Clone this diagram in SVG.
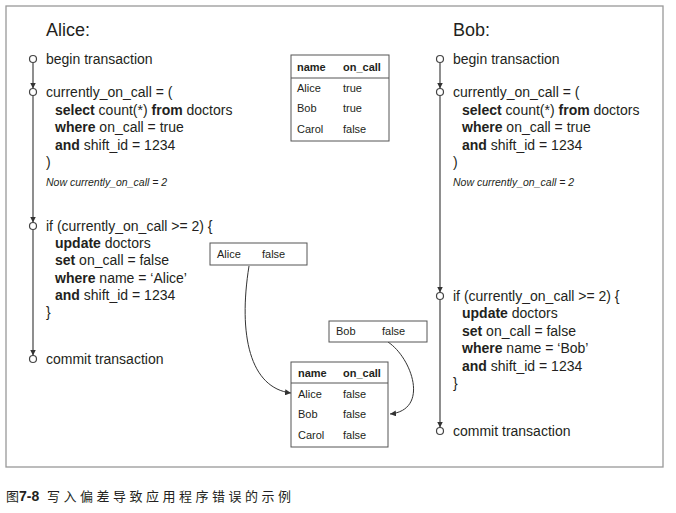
<svg xmlns="http://www.w3.org/2000/svg" width="676" height="513" viewBox="0 0 676 513">
<defs>
<style>
.t{font-family:"Liberation Sans",Arial,sans-serif;font-size:14px;fill:#231f20}
.b{font-weight:bold}
.h{font-family:"Liberation Sans",Arial,sans-serif;font-size:18px;fill:#231f20}
.i{font-family:"Liberation Sans",Arial,sans-serif;font-size:10.5px;font-style:italic;fill:#231f20}
.s{font-family:"Liberation Sans",Arial,sans-serif;font-size:11px;fill:#231f20}
.box{fill:#fff;stroke:#555;stroke-width:1}
.tl{stroke:#444;stroke-width:1.2;fill:none}
.dot{fill:#fff;stroke:#444;stroke-width:1.2}
.cv{stroke:#333;stroke-width:1;fill:none}
.cap{font-family:"Noto Sans CJK SC",sans-serif;font-size:13px;fill:#231f20;letter-spacing:3.5px}
</style>
<marker id="ah" viewBox="0 0 10 10" refX="10" refY="5" markerWidth="6" markerHeight="6" orient="auto" markerUnits="userSpaceOnUse">
<path d="M0,0 L10,5 L0,10 z" fill="#333"/>
</marker>
</defs>
<rect x="6" y="6" width="657" height="461" fill="#fff" stroke="#999" stroke-width="1.3"/>

<g id="connectors">
<line class="tl" x1="33" y1="62.5" x2="33" y2="88.5" marker-end="url(#ah)"/>
<line class="tl" x1="33" y1="95.5" x2="33" y2="222.5" marker-end="url(#ah)"/>
<line class="tl" x1="33" y1="229.5" x2="33" y2="355.5" marker-end="url(#ah)"/>
<line class="tl" x1="440" y1="62.5" x2="440" y2="88.5" marker-end="url(#ah)"/>
<line class="tl" x1="440" y1="95.5" x2="440" y2="292.5" marker-end="url(#ah)"/>
<line class="tl" x1="440" y1="299.5" x2="440" y2="427.5" marker-end="url(#ah)"/>
<path class="cv" d="M249,266 C238,335 250,388 291,393" marker-end="url(#ah)"/>
<path class="cv" d="M388,342 C412,358 430,410 390,414" marker-end="url(#ah)"/>
</g>

<g id="alice">
<text class="h" x="46" y="36">Alice:</text>
<circle class="dot" cx="33" cy="59" r="3.5"/>
<circle class="dot" cx="33" cy="92" r="3.5"/>
<circle class="dot" cx="33" cy="226" r="3.5"/>
<circle class="dot" cx="33" cy="359" r="3.5"/>
<text class="t" x="46" y="64">begin transaction</text>
<text class="t" x="46" y="97">currently_on_call = (</text>
<text class="t" x="55" y="115"><tspan class="b">select</tspan> count(*) <tspan class="b">from</tspan> doctors</text>
<text class="t" x="55" y="132"><tspan class="b">where</tspan> on_call = true</text>
<text class="t" x="55" y="150"><tspan class="b">and</tspan> shift_id = 1234</text>
<text class="t" x="46" y="167">)</text>
<text class="i" x="46" y="186">Now currently_on_call = 2</text>
<text class="t" x="46" y="231">if (currently_on_call &gt;= 2) {</text>
<text class="t" x="55" y="248"><tspan class="b">update</tspan> doctors</text>
<text class="t" x="55" y="265"><tspan class="b">set</tspan> on_call = false</text>
<text class="t" x="55" y="283"><tspan class="b">where</tspan> name = ‘Alice’</text>
<text class="t" x="55" y="300"><tspan class="b">and</tspan> shift_id = 1234</text>
<text class="t" x="46" y="317">}</text>
<text class="t" x="46" y="364">commit transaction</text>
</g>

<g id="bob">
<text class="h" x="453" y="36">Bob:</text>
<circle class="dot" cx="440" cy="59" r="3.5"/>
<circle class="dot" cx="440" cy="92" r="3.5"/>
<circle class="dot" cx="440" cy="296" r="3.5"/>
<circle class="dot" cx="440" cy="431" r="3.5"/>
<text class="t" x="453" y="64">begin transaction</text>
<text class="t" x="453" y="97">currently_on_call = (</text>
<text class="t" x="462" y="115"><tspan class="b">select</tspan> count(*) <tspan class="b">from</tspan> doctors</text>
<text class="t" x="462" y="132"><tspan class="b">where</tspan> on_call = true</text>
<text class="t" x="462" y="150"><tspan class="b">and</tspan> shift_id = 1234</text>
<text class="t" x="453" y="167">)</text>
<text class="i" x="453" y="186">Now currently_on_call = 2</text>
<text class="t" x="453" y="301">if (currently_on_call &gt;= 2) {</text>
<text class="t" x="462" y="318"><tspan class="b">update</tspan> doctors</text>
<text class="t" x="462" y="336"><tspan class="b">set</tspan> on_call = false</text>
<text class="t" x="462" y="353"><tspan class="b">where</tspan> name = ‘Bob’</text>
<text class="t" x="462" y="371"><tspan class="b">and</tspan> shift_id = 1234</text>
<text class="t" x="453" y="388">}</text>
<text class="t" x="453" y="436">commit transaction</text>
</g>

<g id="table-before">
<rect class="box" x="291" y="55" width="98" height="86"/>
<line stroke="#555" x1="291" y1="78" x2="389" y2="78"/>
<text class="s b" x="297" y="71">name</text>
<text class="s b" x="343" y="71">on_call</text>
<text class="s" x="297" y="92">Alice</text>
<text class="s" x="343" y="92">true</text>
<text class="s" x="297" y="112">Bob</text>
<text class="s" x="343" y="112">true</text>
<text class="s" x="297" y="133">Carol</text>
<text class="s" x="343" y="133">false</text>
</g>

<g id="alice-write">
<rect class="box" x="210" y="243" width="97" height="22"/>
<text class="s" x="217" y="258">Alice</text>
<text class="s" x="262" y="258">false</text>
</g>

<g id="bob-write">
<rect class="box" x="329" y="321" width="98" height="21"/>
<text class="s" x="336" y="335">Bob</text>
<text class="s" x="382" y="335">false</text>
</g>

<g id="table-after">
<rect class="box" x="291" y="362" width="97" height="85"/>
<line stroke="#555" x1="291" y1="383" x2="388" y2="383"/>
<text class="s b" x="298" y="377">name</text>
<text class="s b" x="343" y="377">on_call</text>
<text class="s" x="298" y="398">Alice</text>
<text class="s" x="343" y="398">false</text>
<text class="s" x="298" y="418">Bob</text>
<text class="s" x="343" y="418">false</text>
<text class="s" x="298" y="439">Carol</text>
<text class="s" x="343" y="439">false</text>
</g>

<text x="6" y="501" class="cap" style="letter-spacing:0">图<tspan font-family="Liberation Sans,Arial,sans-serif" font-weight="bold" font-size="14">7-8</tspan></text>
<text x="47" y="501" class="cap">写入偏差导致应用程序错误的示例</text>
</svg>
